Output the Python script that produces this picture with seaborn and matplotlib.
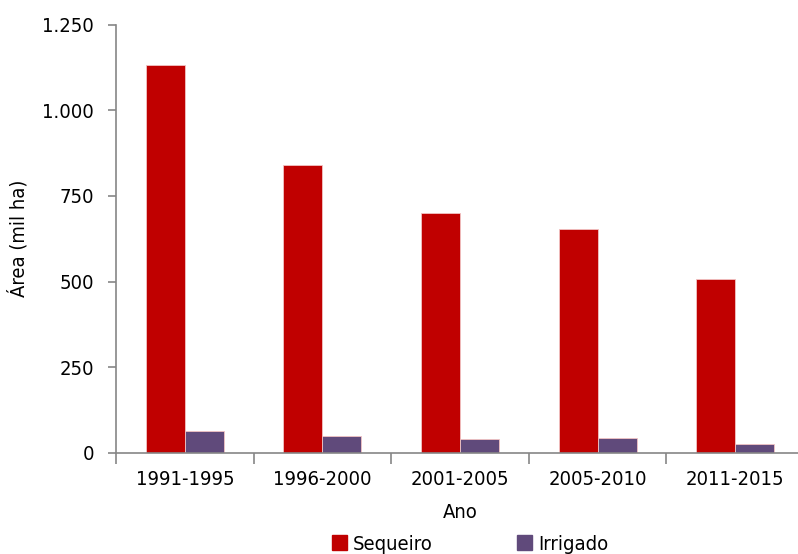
import matplotlib
matplotlib.use("Agg")
import matplotlib.pyplot as plt
import matplotlib.ticker as mticker
import seaborn as sns
import pandas as pd

# Área plantada por período (mil ha)
periodos = ["1991-1995", "1996-2000", "2001-2005", "2005-2010", "2011-2015"]
sequeiro = [1132, 840, 701, 653, 507]
irrigado = [63, 51, 42, 45, 26]
series = ["Sequeiro", "Irrigado"]
cores = ["#C00000", "#604A7B"]
y_ticks = [0, 250, 500, 750, 1000, 1250]

df = pd.DataFrame({
    "Ano": periodos * 2,
    "Área": sequeiro + irrigado,
    "Tipo": [series[0]] * len(periodos) + [series[1]] * len(periodos),
})

sns.set_style("white")
plt.rcParams["font.family"] = ["DejaVu Sans"]
plt.rcParams["font.stretch"] = "condensed"
plt.rcParams["text.color"] = "black"
plt.rcParams["axes.labelcolor"] = "black"
plt.rcParams["xtick.color"] = "black"
plt.rcParams["ytick.color"] = "black"

FS = 14.5

fig = plt.figure(figsize=(7.98, 5.54), dpi=100)
ax = fig.add_axes([116 / 798, 1 - 453 / 554, 688 / 798, (453 - 24.5) / 554])

sns.barplot(data=df, x="Ano", y="Área", hue="Tipo", palette=cores,
            saturation=1, width=0.567, edgecolor="#f2c4c4", linewidth=0.6,
            ax=ax, legend=False)

ax.set_ylim(0, 1250)
ax.set_xlim(-0.5, len(periodos) - 0.5)
ax.set_yticks(y_ticks)
ax.yaxis.set_major_formatter(mticker.FuncFormatter(
    lambda v, p: f"{int(v):,}".replace(",", ".")))

# marcas do eixo x nas fronteiras das categorias
ax.set_xticks([i - 0.5 for i in range(len(periodos) + 1)], minor=True)
ax.tick_params(axis="x", which="major", bottom=True, length=0,
               labelsize=FS, pad=12, labelcolor="black")
ax.tick_params(axis="x", which="minor", bottom=True, length=8, width=1.2,
               color="#868686", direction="out")
ax.tick_params(axis="y", left=True, length=6, width=1.2, color="#868686",
               direction="out", labelsize=FS, pad=10, labelcolor="black")

for s in ["top", "right"]:
    ax.spines[s].set_visible(False)
for s in ["left", "bottom"]:
    ax.spines[s].set_color("#868686")
    ax.spines[s].set_linewidth(1.2)

ax.set_xlabel("Ano", fontsize=FS, labelpad=10, color="black")
ax.set_ylabel("Área (mil ha)", fontsize=FS, labelpad=10, color="black")

handles = [plt.Rectangle((0, 0), 1, 1, color=c) for c in cores]
fig.legend(handles, series, loc="lower center", bbox_to_anchor=(0.589, -0.032),
           ncol=2, frameon=False, fontsize=FS, handlelength=0.75,
           handleheight=0.75, handletextpad=0.3, columnspacing=4.2,
           labelcolor="black")

fig.savefig("out.png", dpi=100)
